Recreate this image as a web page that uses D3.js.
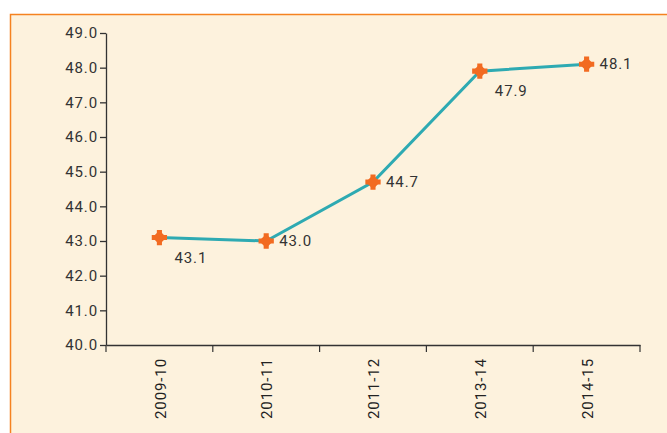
<!DOCTYPE html>
<html><head><meta charset="utf-8">
<script src="https://cdn.jsdelivr.net/npm/d3@7"></script>
<style>
html,body{margin:0;padding:0;background:#fff;}
svg{display:block;}
svg text{font-family:Roboto, "Noto Sans", sans-serif; letter-spacing:0.9px;}
</style></head>
<body><svg id="c" width="667" height="433"></svg>
<script>
const categories = ["2009-10","2010-11","2011-12","2013-14","2014-15"];
const values = [43.1, 43.0, 44.7, 47.9, 48.1];
const yTicks = [40,41,42,43,44,45,46,47,48,49];
const labelPos = ["below","right","right","below","right"];

const svg = d3.select("#c");
svg.append("rect").attr("x",10.5).attr("y",14.5).attr("width",680).attr("height",440)
  .attr("fill","#fdf2dd").attr("stroke","#f58220").attr("stroke-width",1.5);

const x = d3.scaleBand().domain(categories).range([106,640]);
const y = d3.scaleLinear().domain([40,49]).range([345,33]);

const yAxis = svg.append("g").attr("transform","translate(106,0)")
  .call(d3.axisLeft(y).tickValues(yTicks).tickFormat(d3.format(".1f")).tickSize(6).tickSizeOuter(0));
yAxis.attr("font-family",null).attr("font-size",null);
yAxis.selectAll("text").attr("font-size",15).attr("fill","#333").attr("x",-8);

const xAxis = svg.append("g").attr("transform","translate(0,345)")
  .call(d3.axisBottom(x).tickSize(0).tickSizeOuter(0));
xAxis.attr("font-family",null).attr("font-size",null);
xAxis.selectAll(".tick line").remove();
xAxis.selectAll("text").attr("font-size",15).attr("fill","#222")
  .attr("transform","rotate(-90)").attr("x",-13).attr("y",1).attr("dy","0.35em").attr("text-anchor","end");
const bounds = categories.map(c => x(c)).concat([x.range()[1]]);
svg.append("g").selectAll("line").data(bounds).join("line")
  .attr("x1",d=>d).attr("x2",d=>d).attr("y1",345).attr("y2",352)
  .attr("stroke","#333").attr("stroke-width",1.2);
svg.selectAll(".domain").attr("stroke","#333").attr("stroke-width",1.3);
yAxis.selectAll(".tick line").attr("stroke","#333").attr("stroke-width",1.3);

const cx = c => x(c) + x.bandwidth()/2;
const pts = categories.map((c,i)=>[cx(c), y(values[i])]);
svg.append("path").datum(pts).attr("d", d3.line())
  .attr("fill","none").attr("stroke","#2eaab2").attr("stroke-width",3);

const sq = d3.symbol().type(d3.symbolSquare).size(100);
svg.append("g").selectAll("path").data(pts).join("path")
  .attr("d", sq).attr("transform", d=>`translate(${d[0]},${d[1]}) rotate(45)`)
  .attr("fill","#f26b21");
svg.append("g").selectAll("path").data(pts).join("path")
  .attr("d", d3.symbol().type(d3.symbolCross).size(130)).attr("transform", d=>`translate(${d[0]},${d[1]})`)
  .attr("fill","#f26b21");

svg.append("g").selectAll("text").data(values).join("text")
  .attr("x",(d,i)=> pts[i][0] + (labelPos[i]==="below"?15:13))
  .attr("y",(d,i)=> pts[i][1] + (labelPos[i]==="below"?20:0))
  .attr("dy","0.35em").attr("font-size",15).attr("fill","#333")
  .text(d=>d.toFixed(1));
</script></body></html>
